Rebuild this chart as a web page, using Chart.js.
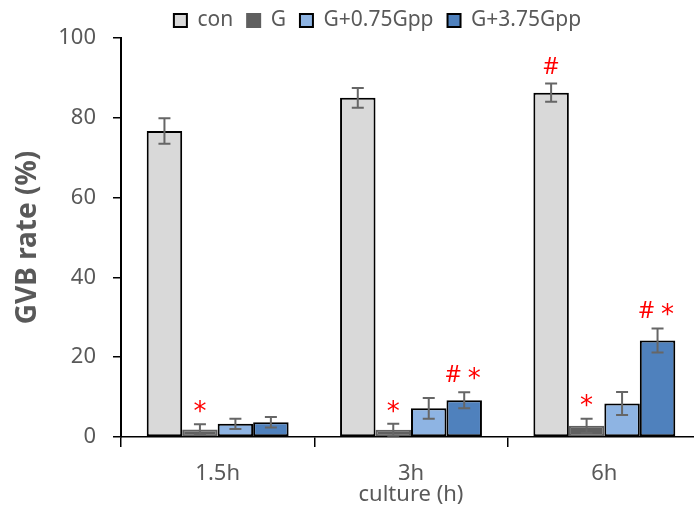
<!DOCTYPE html>
<html>
<head>
<meta charset="utf-8">
<script src="https://cdn.jsdelivr.net/npm/chart.js@4.4.1/dist/chart.umd.min.js"></script>
<style>
  html, body { margin: 0; padding: 0; background: #fff; overflow: hidden; }
  #wrap { width: 694px; height: 510px; overflow: hidden; }
</style>
</head>
<body>
<div id="wrap"><canvas id="gvbChart" width="701" height="510"></canvas></div>
<script>
// ===== DATA =====
const categories = ['1.5h', '3h', '6h'];
const seriesNames = ['con', 'G', 'G+0.75Gpp', 'G+3.75Gpp'];

const conValues  = [76.7, 85.0, 86.3];
const conErrors  = [3.2, 2.5, 2.3];
const gValues    = [1.9, 1.8, 2.8];
const gErrors    = [1.3, 1.5, 1.8];
const lowValues  = [3.3, 7.2, 8.4];   // G+0.75Gpp
const lowErrors  = [1.3, 2.6, 2.9];
const highValues = [3.7, 9.2, 24.2];  // G+3.75Gpp
const highErrors = [1.3, 2.0, 3.0];

// significance marks above the error bars
const conMarks  = ['', '', '#'];
const gMarks    = ['*', '*', '*'];
const lowMarks  = ['', '', ''];
const highMarks = ['', '# *', '# *'];

const yMin = 0, yMax = 100, yStep = 20;

const TEXT = '#595959';
Chart.defaults.font.family = "'Noto Sans', 'DejaVu Sans', sans-serif";

// draw one mark glyph with its ink roughly centred on (x, y)
function drawGlyph(ctx, ch, x, y) {
  ctx.textAlign = 'center';
  ctx.textBaseline = 'middle';
  if (ch === '*') {
    ctx.font = "26px 'DejaVu Sans', sans-serif";
    ctx.fillText(ch, x, y + 6);   // asterisk sits high in the em box
  } else {
    ctx.font = "24px 'Noto Sans', sans-serif";
    ctx.fillText(ch, x, y + 1);
  }
}

// error bars + red marks, positioned from the bar elements and the y scale
const errorBars = {
  id: 'errorBars',
  afterDatasetsDraw(chart) {
    const ctx = chart.ctx;
    const y = chart.scales.y;
    chart.data.datasets.forEach((ds, i) => {
      const meta = chart.getDatasetMeta(i);
      meta.data.forEach((bar, j) => {
        const v = ds.data[j], e = ds.errors[j];
        const top = y.getPixelForValue(v + e);
        const bot = y.getPixelForValue(v - e);
        ctx.save();
        ctx.strokeStyle = '#666';
        ctx.lineWidth = 2;
        ctx.beginPath();
        ctx.moveTo(bar.x, top); ctx.lineTo(bar.x, bot);
        ctx.moveTo(bar.x - 6, top); ctx.lineTo(bar.x + 6, top);
        ctx.moveTo(bar.x - 6, bot); ctx.lineTo(bar.x + 6, bot);
        ctx.stroke();
        const parts = ds.marks[j] ? ds.marks[j].split(' ') : [];
        ctx.fillStyle = '#ff0000';
        if (parts.length === 1) {
          drawGlyph(ctx, parts[0], bar.x, top - 17);
        } else if (parts.length === 2) {
          drawGlyph(ctx, parts[0], bar.x - 11, top - 18);
          drawGlyph(ctx, parts[1], bar.x + 10, top - 18);
        }
        ctx.restore();
      });
    });
  }
};

// legend: shorter box and shifted like the original
const legendTweak = {
  id: 'legendTweak',
  beforeInit(chart) {
    const fit = chart.legend.fit;
    chart.legend.fit = function () {
      fit.bind(chart.legend)();
      this.height = 38;
    };
  },
  afterLayout(chart) {
    const l = chart.legend;
    l.left += 27; l.right += 27;
    l.top -= 4; l.bottom -= 4;
  }
};

function makeSet(label, data, errors, marks, fill, border) {
  return {
    label, data, errors, marks,
    backgroundColor: fill,
    borderColor: border,
    borderWidth: 2,
    borderSkipped: false,
    categoryPercentage: 0.734,
    barPercentage: 1.0
  };
}

new Chart(document.getElementById('gvbChart'), {
  type: 'bar',
  data: {
    labels: categories,
    datasets: [
      makeSet(seriesNames[0], conValues, conErrors, conMarks, '#d9d9d9', '#000'),
      makeSet(seriesNames[1], gValues, gErrors, gMarks, '#5f5f5f', '#5f5f5f'),
      makeSet(seriesNames[2], lowValues, lowErrors, lowMarks, '#8eb4e3', '#000'),
      makeSet(seriesNames[3], highValues, highErrors, highMarks, '#4f81bd', '#000')
    ]
  },
  options: {
    responsive: false,
    animation: false,
    layout: { padding: 0 },
    plugins: {
      legend: {
        position: 'top',
        labels: { color: TEXT, font: { size: 21 }, boxWidth: 13, boxHeight: 13, padding: 14 }
      },
      tooltip: { enabled: false }
    },
    scales: {
      x: {
        grid: { offset: true, drawOnChartArea: false, tickLength: 10, color: '#000', lineWidth: 1.5 },
        border: { color: '#000', width: 1.5 },
        ticks: { color: TEXT, font: { size: 22 }, padding: 14 },
        title: { display: true, text: 'culture (h)', color: TEXT, font: { size: 22 }, padding: { top: 0, bottom: 2 } },
        afterFit(s) { s.height = 73; }
      },
      y: {
        min: yMin, max: yMax,
        ticks: { stepSize: yStep, color: TEXT, font: { size: 22 }, padding: 17 },
        grid: { drawOnChartArea: false, tickLength: 8, color: '#000', lineWidth: 1.5 },
        border: { color: '#000', width: 2 },
        title: { display: true, text: 'GVB rate (%)', color: TEXT, font: { size: 28, weight: 'bold' }, padding: { top: 11 } },
        afterFit(s) { s.width = 121; }
      }
    }
  },
  plugins: [errorBars, legendTweak]
});
</script>
</body>
</html>
